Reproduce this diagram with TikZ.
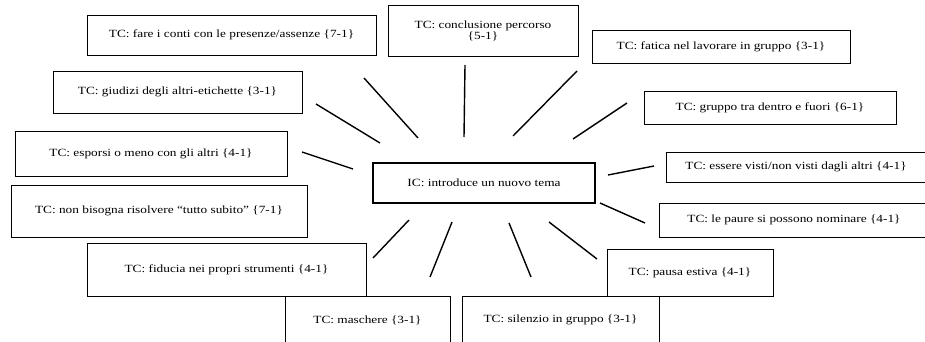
\documentclass[tikz,border=0pt]{standalone}
\usepackage{fontspec}
\setmainfont{Liberation Serif}[FakeStretch=1.21]

\tikzset{
  topic/.style={draw, line width=0.8pt, inner sep=0pt, align=center,
    font=\fontsize{11}{9.5}\selectfont},
  core/.style={topic, line width=1.6pt},
  spoke/.style={line width=1.4pt}
}

\begin{document}
\begin{tikzpicture}[x=1pt,y=-1pt]
        \clip (0,0) rectangle (925,342);

        % Central code
        \node[core, minimum width=222pt, minimum height=40pt] (ic) at (484,183) {IC: introduce un nuovo tema};

        % Topic codes
        \node[topic, minimum width=289pt, minimum height=40pt] (fare) at (231.5,35) {TC: fare i conti con le presenze/assenze \{7-1\}};
        \node[topic, minimum width=190pt, minimum height=51pt] (conclusione) at (483,30.5) {TC: conclusione percorso\\\{5-1\}};
        \node[topic, minimum width=258pt, minimum height=33pt] (fatica) at (721,46.5) {TC: fatica nel lavorare in gruppo \{3-1\}};
        \node[topic, minimum width=252pt, minimum height=33pt] (dentro) at (770,107.5) {TC: gruppo tra dentro e fuori \{6-1\}};
        \node[topic, minimum width=249pt, minimum height=42pt] (giudizi) at (177.5,92) {TC: giudizi degli altri-etichette \{3-1\}};
        \node[topic, minimum width=272pt, minimum height=45pt] (esporsi) at (151,153.5) {TC: esporsi o meno con gli altri \{4-1\}};
        \node[topic, minimum width=260pt, minimum height=30pt] (visti) at (796,167) {TC: essere visti/non visti dagli altri \{4-1\}};
        \node[topic, minimum width=296pt, minimum height=52pt] (subito) at (159,211) {TC: non bisogna risolvere “tutto subito” \{7-1\}};
        \node[topic, minimum width=270pt, minimum height=34pt] (paure) at (794,220) {TC: le paure si possono nominare \{4-1\}};
        \node[topic, minimum width=279pt, minimum height=53pt] (fiducia) at (226.5,269.5) {TC: fiducia nei propri strumenti \{4-1\}};
        \node[topic, minimum width=166pt, minimum height=47pt] (pausa) at (690,272.5) {TC: pausa estiva \{4-1\}};
        \node[topic, minimum width=165pt, minimum height=48pt] (maschere) at (367.5,320) {TC: maschere \{3-1\}};
        \node[topic, minimum width=197pt, minimum height=48pt] (silenzio) at (560.5,320) {TC: silenzio in gruppo \{3-1\}};

        % Spokes: inner end near IC, outer end near each TC
        \foreach \n/\ax/\ay/\bx/\by in {fare/418/138/364/78, conclusione/464/137/465/65,
            fatica/513/136/577/71, dentro/573/139/627/103, giudizi/380/143/316/104,
            esporsi/353/169/302/152, visti/608/175/654/166, paure/600/203/645/223,
            fiducia/409/220/373/258, maschere/452/222/430/277,
            silenzio/509/223/531/277, pausa/549/222/597/259} {
            \coordinate (in-\n) at (\ax,\ay);
            \coordinate (out-\n) at (\bx,\by);
            \draw[spoke] (in-\n) -- (out-\n);
        }
    \end{tikzpicture}
\end{document}
